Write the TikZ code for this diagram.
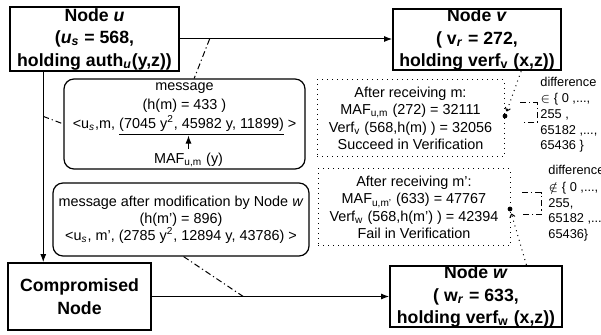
\documentclass[tikz,border=0pt]{standalone}
\usepackage{fontspec}
\setmainfont{Liberation Sans}
\usetikzlibrary{positioning}
\usetikzlibrary{calc, arrows.meta}

\begin{document}
\begin{tikzpicture}[x=0.5pt,y=-0.5pt,
  nodebox/.style={draw,line width=0.9pt,align=center,inner sep=0pt,font=\fontsize{8.85}{11.25}\selectfont\bfseries},
  msgbox/.style={draw,line width=0.6pt,rounded corners=5pt,inner sep=0pt},
  msgtext/.style={font=\fontsize{7.2}{8.6}\selectfont,inner sep=0pt,align=center},
  checkbox/.style={draw,dotted,line width=0.5pt,align=center,inner sep=0pt,font=\fontsize{7.2}{8.75}\selectfont},
  difftext/.style={font=\fontsize{6.4}{7.9}\selectfont,align=left,inner sep=0pt,anchor=north west},
  flow/.style={line width=0.5pt,-{Latex[length=4pt,width=3pt]}},
  tap/.style={line width=0.5pt,dash pattern=on 3pt off 1.5pt on 0.6pt off 1.5pt},
  hint/.style={line width=0.5pt,dotted,-{To[length=2pt,width=3pt]}},
  spot/.style={circle,fill,inner sep=0pt,minimum size=2.4pt}]
\useasboundingbox (0,0) rectangle (601,335);
\clip (0,0) rectangle (601,335);

% the four nodes
\node[nodebox,minimum width=84.5pt,minimum height=32pt] (nodeu) at (94.5,39) {Node \textit{u}\\(\textit{u}\textsubscript{\textit{s}} = 568,\\holding auth\textsubscript{\textit{u}}(y,z))};
\node[nodebox,minimum width=84pt,minimum height=30.5pt] (nodev) at (477,39.5) {Node \textit{v}\\( v\textsubscript{\textit{r}} = 272,\\holding verf\textsubscript{v} (x,z))};
\node[nodebox,minimum width=71.5pt,minimum height=33.5pt] (comp) at (79.5,296.5) {Compromised\\Node};
\node[nodebox,minimum width=86pt,minimum height=30.5pt] (nodew) at (476,296.5) {Node \textit{w}\\( w\textsubscript{\textit{r}} = 633,\\holding verf\textsubscript{w} (x,z))};

% messages
\node[msgbox,minimum width=120.5pt,minimum height=45pt] (msg) at (184.5,124) {};
\node[msgtext,anchor=north,font=\fontsize{7.2}{9.4}\selectfont] (msgbody) at ([yshift=-2pt]msg.north) {message\\(h(m) = 433 )\\<u\textsubscript{\textit{s}},m, \underline{(7045 y\textsuperscript{2}, 45982 y, 11899)} >};
\node[msgtext,anchor=south] (maf) at ([xshift=2pt,yshift=1pt]msg.south) {MAF\textsubscript{u,m} (y)};
\node[msgbox,msgtext,minimum width=128pt,minimum height=36.5pt] (modmsg) at (181,219.5) {message after modification by Node \textit{w}\\(h(m') = 896)\\<u\textsubscript{\textit{s}}, m', (2785 y\textsuperscript{2}, 12894 y, 43786) >};

% checks at v and w
\node[checkbox,minimum width=93.5pt,minimum height=38.5pt] (okcheck) at (410.5,118.5) {After receiving m:\\MAF\textsubscript{u,m} (272) = 32111\\Verf\textsubscript{v} (568,h(m) ) = 32056\\Succeed in Verification};
\node[checkbox,minimum width=96pt,minimum height=38.5pt] (failcheck) at (414,207.5) {After receiving m':\\MAF\textsubscript{u,m'} (633) = 47767\\Verf\textsubscript{w} (568,h(m') ) = 42394\\Fail in Verification};
\node[spot] (okspot) at (505,116) {};
\node[spot] (failspot) at (510,209) {};
\node[difftext] (okdiff) at (540,77) {difference\\$\in$ \{ 0 ,...,\\255 ,\\65182 ,...,\\65436 \}};
\node[difftext] (faildiff) at (548,165) {difference\\[0.4pt]$\notin$ \{ 0 ,...,\\255,\\65182 ,...\\65436\}};

% links
\coordinate (udown) at ($(nodeu.south west)!0.2!(nodeu.south east)$);
\draw[flow] (nodeu.east) -- coordinate[pos=0.14] (uvtap) (nodeu.east -| nodev.west);
\draw[flow] (udown) -- coordinate[pos=0.234] (uctap) (udown |- comp.north);
\draw[flow] (comp.east) -- coordinate[pos=0.385] (cwtap) (comp.east -| nodew.west);
\draw[flow,shorten <=2pt] (maf.north) -- (maf.north |- msgbody.south);
\draw[tap] (uvtap) -- ($(msg.north west)!0.54!(msg.north east)$);
\draw[tap] (uctap) -- (msg.west);
\draw[tap] ($(modmsg.south west)!0.51!(modmsg.south east)$) -- (cwtap);
\draw[hint,shorten >=1pt] ($(nodev.south west)!0.76!(nodev.south east)$) -- (okspot);
\draw[hint,shorten >=1pt] ($(nodew.north west)!0.79!(nodew.north east)$) -- (failspot);

% brackets to the differences
\coordinate (okbra) at (520,103);
\coordinate (okket) at (523,123);
\draw[tap] (okbra) -- ++(17,0) |- (okket);
\coordinate (failbra) at (522,193);
\coordinate (failket) at (522,215);
\draw[tap] (failbra) -- ++(19,0) |- (failket);

\end{tikzpicture}
\end{document}
